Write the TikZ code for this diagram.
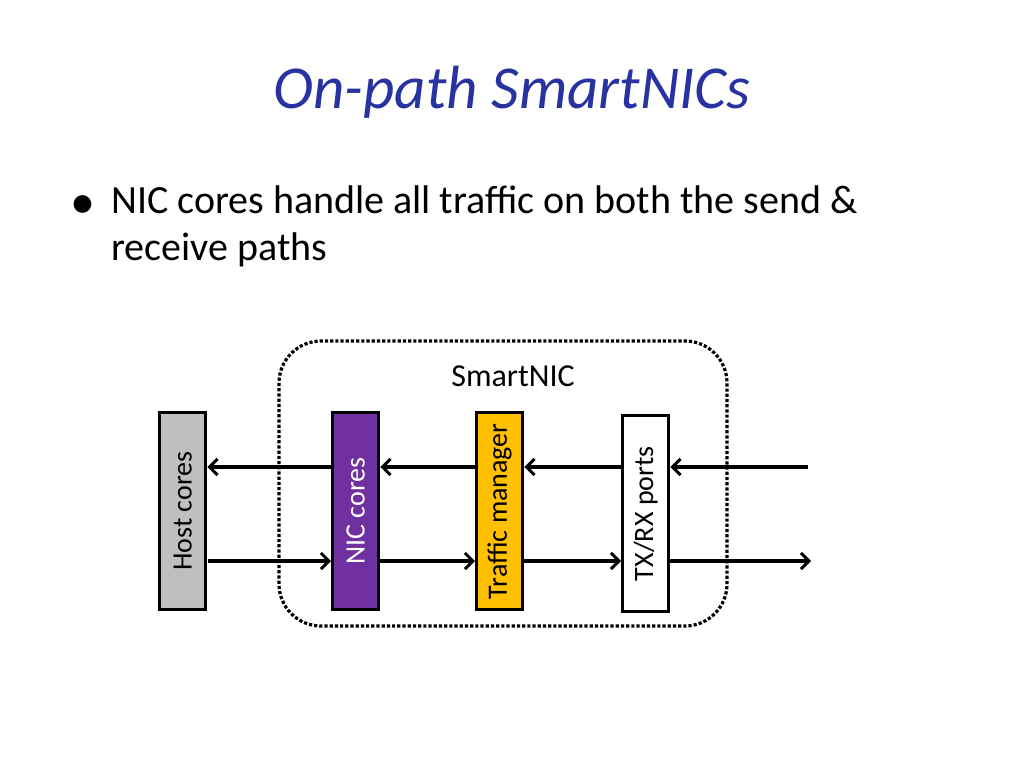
\documentclass[tikz,border=0pt]{standalone}
\usepackage{fontspec}
\setmainfont{Carlito}
\usetikzlibrary{arrows.meta}
\definecolor{titleblue}{RGB}{40,50,160}
\definecolor{hostgray}{RGB}{191,191,191}
\definecolor{nicpurple}{RGB}{112,48,160}
\definecolor{tmorange}{RGB}{255,192,0}
\begin{document}
\begin{tikzpicture}[x=1pt,y=-1pt,
  blk/.style={draw=black,line width=3.4pt,minimum width=46pt,minimum height=197pt,inner sep=0pt,anchor=north west},
  lbl/.style={rotate=90,font=\fontsize{28}{28}\selectfont},
  arr/.style={-{Straight Barb[length=8pt,width=16pt,line width=3pt]},line width=3.2pt}]
\useasboundingbox (0,0) rectangle (1024,768);
\node[font=\fontsize{61}{61}\selectfont\itshape,text=titleblue] (title) at (512,92) {On-path SmartNICs};
\node[anchor=base west,inner sep=0pt,font=\fontsize{50}{50}\selectfont] (bul) at (70,218) {\textbullet};
\node[anchor=north west,inner sep=0pt,align=left,font=\fontsize{40}{47}\selectfont] (txt) at (111,186) {NIC cores handle all traffic on both the send \&\\receive paths};
\draw[dotted,line width=3.2pt,rounded corners=42pt] (279,341) rectangle (727,626);
\node[font=\fontsize{32}{32}\selectfont] (snic) at (513,376) {SmartNIC};
\node[blk,fill=hostgray] (host) at (158,411) {};
\node[blk,fill=nicpurple] (nic) at (331,411) {};
\node[blk,fill=tmorange] (tm) at (475,411) {};
\node[blk,fill=white,minimum height=196pt] (ports) at (621,414) {};
\node[lbl] at (host.center) {Host cores};
\node[lbl,text=white] at (nic.center) {NIC cores};
\node[lbl] at (tm.center) {Traffic manager};
\node[lbl] at (ports.center) {TX/RX ports};
\coordinate (inR) at (808,467);
\coordinate (outR) at (811,561);
\coordinate (hostOut) at (208,561);
% receive path
\draw[arr] (inR) -- (inR -| ports.east);
\draw[arr] (ports.west |- inR) -- (tm.east |- inR);
\draw[arr] (tm.west |- inR) -- (nic.east |- inR);
\draw[arr] (nic.west |- inR) -- (host.east |- inR);
% send path
\draw[arr] (hostOut) -- (nic.west |- hostOut);
\draw[arr] (nic.east |- hostOut) -- (tm.west |- hostOut);
\draw[arr] (tm.east |- hostOut) -- (ports.west |- hostOut);
\draw[arr] (ports.east |- hostOut) -- (outR);
\end{tikzpicture}
\end{document}
